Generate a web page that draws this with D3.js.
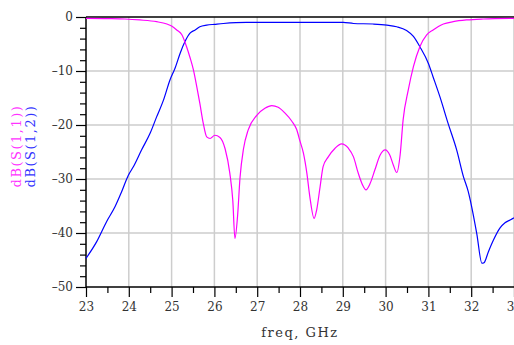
<!DOCTYPE html>
<html lang="en">
<head>
<meta charset="UTF-8">
<title>S-parameters</title>
<script src="https://d3js.org/d3.v7.min.js"></script>
<style>
    body { margin: 0; background: #fff; }
    svg { display: block; }
    text { font-family: "DejaVu Serif", "Liberation Serif", serif; fill: #333; }
</style>
</head>
<body>
<div id="chart"></div>
<script>
// data
const xTicks = [23, 24, 25, 26, 27, 28, 29, 30, 31, 32, 33];
const yTicks = [0, -10, -20, -30, -40, -50];

const s11Freq = [23.0, 23.5, 23.91, 24.26, 24.65, 24.89, 25.0, 25.12, 25.24, 25.35, 25.43, 25.51, 25.59, 25.66,
    25.74, 25.82, 25.90, 26.01, 26.13, 26.25, 26.36, 26.43, 26.48, 26.54, 26.60, 26.68, 26.79, 26.99,
    27.18, 27.34, 27.49, 27.65, 27.81, 27.92, 28.0, 28.08, 28.16, 28.23, 28.33, 28.39, 28.47, 28.54,
    28.66, 28.82, 28.97, 29.13, 29.25, 29.36, 29.48, 29.54, 29.64, 29.75, 29.87, 29.99, 30.10, 30.18,
    30.26, 30.34, 30.41, 30.53, 30.65, 30.80, 30.96, 31.11, 31.35, 31.58, 31.89, 32.28, 33.0];
const s11dB = [-0.25, -0.3, -0.37, -0.55, -0.87, -1.3, -1.67, -2.4, -3.3, -5.5, -7.5, -9.8, -13.0, -16.0,
    -19.7, -22.2, -22.5, -21.9, -22.3, -24.4, -28.9, -34, -41, -37, -29.6, -24.4, -20.9, -18.2,
    -16.9, -16.4, -16.7, -17.8, -19.3, -20.8, -23.0, -25.2, -28.9, -33.3, -37.3, -35.7, -31.4, -27.7,
    -25.9, -24.3, -23.5, -24.3, -25.9, -28.9, -31.4, -32, -30.8, -28.3, -25.6, -24.6, -25.6, -27.4,
    -28.8, -25.5, -19, -13.5, -9.2, -5.5, -3.3, -2.4, -1.3, -0.87, -0.55, -0.37, -0.25];

const s12Freq = [23.0, 23.25, 23.48, 23.68, 23.83, 23.99, 24.11, 24.30, 24.50, 24.65, 24.81, 24.96, 25.08,
    25.20, 25.31, 25.43, 25.55, 25.66, 25.82, 26.01, 26.21, 26.75, 29.01, 29.25, 29.71, 30.03, 30.26,
    30.49, 30.65, 30.80, 31.0, 31.11, 31.27, 31.46, 31.66, 31.82, 31.93, 32.01, 32.13, 32.25, 32.30,
    32.40, 32.52, 32.67, 32.79, 32.91, 33.0];
const s12dB = [-44.7, -41.6, -37.9, -35.1, -32.4, -29.3, -27.7, -24.6, -21.5, -18.5, -15.4, -11.7, -9.5,
    -6.7, -4.6, -3.0, -2.4, -1.8, -1.5, -1.35, -1.2, -1.0, -1.0, -1.2, -1.3, -1.5, -1.8,
    -2.5, -3.6, -5.5, -8.6, -11.1, -14.8, -19.7, -24.6, -29.6, -32.3, -35.1, -40.1, -45.6, -45.5,
    -43.5, -41.3, -39.1, -38.1, -37.6, -37.2];

const width = 514, height = 345;
const plot = { left: 86, right: 514, top: 17, bottom: 287 };
const serif = "'DejaVu Serif', 'Liberation Serif', serif";

const svg = d3.select("#chart").append("svg")
    .attr("width", width)
    .attr("height", height);

const x = d3.scaleLinear().domain([23, 33]).range([plot.left, plot.right]);
const y = d3.scaleLinear().domain([-50, 0]).range([plot.bottom, plot.top]);

// grid
svg.append("g")
    .selectAll("line")
    .data(xTicks.slice(1))
    .enter().append("line")
    .attr("x1", d => x(d)).attr("x2", d => x(d))
    .attr("y1", plot.top).attr("y2", plot.bottom)
    .attr("stroke", "#cdcdcd").attr("stroke-width", 1.5);

svg.append("g")
    .selectAll("line")
    .data(yTicks.slice(1, -1))
    .enter().append("line")
    .attr("x1", plot.left).attr("x2", plot.right)
    .attr("y1", d => y(d)).attr("y2", d => y(d))
    .attr("stroke", "#cdcdcd").attr("stroke-width", 1.5);

// axes
const xAxis = d3.axisBottom(x)
    .tickValues(xTicks)
    .tickFormat(d3.format("d"))
    .tickSize(10)
    .tickPadding(5);
const xMinor = d3.axisBottom(x)
    .tickValues(d3.range(23.5, 33, 1))
    .tickFormat("")
    .tickSize(6);

svg.append("g").attr("transform", `translate(0,${plot.bottom})`).call(xAxis);
svg.append("g").attr("transform", `translate(0,${plot.bottom})`).call(xMinor);

const yAxis = d3.axisLeft(y)
    .tickValues(yTicks)
    .tickFormat(d => d === 0 ? "0" : "\u2013" + Math.abs(d))
    .tickSize(10)
    .tickPadding(3);
const yMinor = d3.axisLeft(y)
    .tickValues(d3.range(-48, 0, 2).filter(v => v % 10 !== 0))
    .tickFormat("")
    .tickSize(6);

svg.append("g").attr("transform", `translate(${plot.left},0)`).call(yAxis);
svg.append("g").attr("transform", `translate(${plot.left},0)`).call(yMinor);

svg.selectAll(".domain").remove();
svg.selectAll(".tick line").attr("stroke", "#000").attr("stroke-width", 1.2);
svg.selectAll(".tick text")
    .style("font-family", serif)
    .style("font-size", "12px")
    .attr("fill", "#444");

// frame lines
svg.append("line").attr("x1", plot.left).attr("x2", plot.right).attr("y1", plot.bottom).attr("y2", plot.bottom)
    .attr("stroke", "#000").attr("stroke-width", 1.5);
svg.append("line").attr("x1", plot.left).attr("x2", plot.right).attr("y1", plot.top).attr("y2", plot.top)
    .attr("stroke", "#000").attr("stroke-width", 1.5);
svg.append("line").attr("x1", plot.left).attr("x2", plot.left).attr("y1", plot.top).attr("y2", plot.bottom)
    .attr("stroke", "#000").attr("stroke-width", 1.5);

// traces
const line = d3.line()
    .x(d => x(d[0]))
    .y(d => y(d[1]))
    .curve(d3.curveMonotoneX);

svg.append("path")
    .datum(d3.zip(s12Freq, s12dB))
    .attr("d", line)
    .attr("fill", "none")
    .attr("stroke", "#0000ff")
    .attr("stroke-width", 1.2);

svg.append("path")
    .datum(d3.zip(s11Freq, s11dB))
    .attr("d", line)
    .attr("fill", "none")
    .attr("stroke", "#ff00ff")
    .attr("stroke-width", 1.2);

// axis titles
svg.append("text")
    .attr("x", 300)
    .attr("y", 337)
    .attr("text-anchor", "middle")
    .style("font-family", serif)
    .style("font-size", "13px")
    .style("letter-spacing", "1.5px")
    .attr("fill", "#333")
    .text("freq, GHz");

svg.append("text")
    .attr("transform", "translate(21,146) rotate(-90)")
    .attr("text-anchor", "middle")
    .style("font-family", serif)
    .style("font-size", "13px")
    .style("letter-spacing", "1.5px")
    .style("fill", "#ff33ff")
    .text("dB(S(1,1))");

svg.append("text")
    .attr("transform", "translate(35,146) rotate(-90)")
    .attr("text-anchor", "middle")
    .style("font-family", serif)
    .style("font-size", "13px")
    .style("letter-spacing", "1.5px")
    .style("fill", "#3333ff")
    .text("dB(S(1,2))");
</script>
</body>
</html>
